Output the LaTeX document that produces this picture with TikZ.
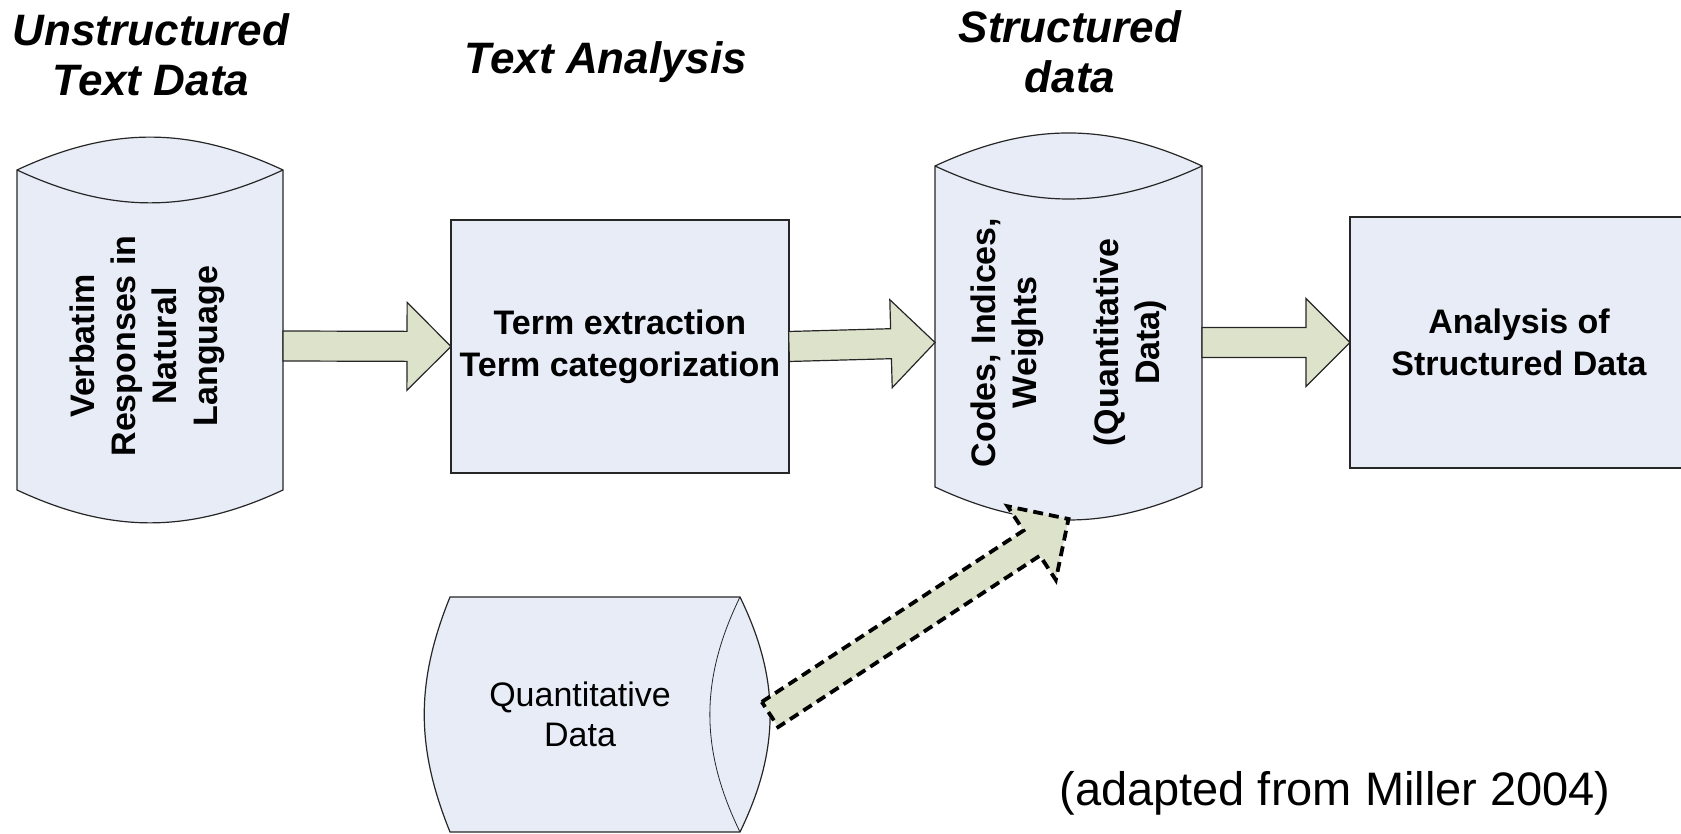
\documentclass[tikz,border=0pt]{standalone}
\usepackage{fontspec}
\setmainfont{Liberation Sans}
\usetikzlibrary{calc}
\definecolor{canfill}{HTML}{E7ECF7}
\definecolor{arrfill}{HTML}{DDE2CB}
\definecolor{edge}{HTML}{262626}
\tikzset{
  area/.style={inner sep=0pt, outer sep=0pt},
  can/.style={draw=edge, fill=canfill, line width=1.2pt},
  box/.style={draw=edge, fill=canfill, line width=1.2pt, inner sep=0pt, outer sep=0pt, minimum width=338pt, boxlab},
  lab/.style={font=\fontsize{34}{41}\selectfont\bfseries, align=center},
  boxlab/.style={font=\fontsize{34}{42}\selectfont\bfseries, align=center},
  plain/.style={font=\fontsize{34}{40}\selectfont, align=center},
  head/.style={font=\fontsize{44}{50}\selectfont\bfseries\itshape, align=center},
  fatarr/.style={draw=edge, fill=arrfill, line width=1.2pt, line join=miter},
  dasharr/.style={draw=black, line width=3.8pt, dash pattern=on 10pt off 6pt},
}
\newcommand{\blockarrow}[3][]{%
  \coordinate (hb) at ($(#3)!44pt!(#2)$);
  \draw[fatarr,#1] ($(#2)!15pt!90:(#3)$) -- ($(hb)!15pt!90:(#3)$) -- ($(hb)!44pt!90:(#3)$) -- (#3)
    -- ($(hb)!44pt!-90:(#3)$) -- ($(hb)!15pt!-90:(#3)$) -- ($(#2)!15pt!-90:(#3)$) -- cycle;
}

\begin{document}
\begin{tikzpicture}[x=1pt, y=1pt]
  \useasboundingbox (0,0) rectangle (1681,834);
  \def\ry{32}
  % headings
  \node[head] (hraw) at (151,779) {Unstructured\\Text Data};
  \node[head] (hta) at (606,772) {Text Analysis};
  \node[head] (hsd) at (1070,782) {Structured\\data};
  % unstructured text store
  \node[area, minimum width=266pt, minimum height=288pt] (raw) at (150,488) {};
  \draw[can] (raw.south west) -- ([yshift=\ry pt]raw.north west) to[bend left=25] ([yshift=\ry pt]raw.north east)
    -- (raw.south east) to[bend left=25] (raw.south west) -- cycle;
  \draw[can, fill=none] ([yshift=\ry pt]raw.north west) to[bend right=25] ([yshift=\ry pt]raw.north east);
  \node[lab, rotate=90] (rawtxt) at (147,488) {Verbatim\\Responses in\\Natural\\Language};
  % structured data store
  \node[area, minimum width=267pt, minimum height=289pt] (sd) at (1068.5,491.5) {};
  \draw[can] (sd.south west) -- ([yshift=\ry pt]sd.north west) to[bend left=25] ([yshift=\ry pt]sd.north east)
    -- (sd.south east) to[bend left=25] (sd.south west) -- cycle;
  \draw[can, fill=none] ([yshift=\ry pt]sd.north west) to[bend right=25] ([yshift=\ry pt]sd.north east);
  \node[lab, rotate=90] (sdtxt) at (sd) {Codes, Indices,\\Weights\\[41pt](Quantitative\\Data)};
  % quantitative data store
  \node[area, minimum width=260pt, minimum height=235pt] (qd) at (580,119.5) {};
  \draw[can] (qd.north west) -- ([xshift=30pt]qd.north east) to[bend left=26] ([xshift=30pt]qd.south east)
    -- (qd.south west) to[bend left=22] (qd.north west) -- cycle;
  \draw[can, fill=none, line width=0.8pt] ([xshift=30pt]qd.north east) to[bend right=26] ([xshift=30pt]qd.south east);
  \node[plain] (qdtxt) at (qd) {Quantitative\\Data};
  \coordinate (qdout) at ([xshift=60pt]qd.east);
  \coordinate (sdin) at ([yshift=-\ry pt]sd.south);
  % process boxes
  \node[box, minimum height=253pt] (ta) at (620,487.5) {Term extraction\\Term categorization};
  \node[box, minimum height=251pt] (as) at (1519,491.5) {Analysis of\\Structured Data};
  % flow
  \blockarrow{raw.east}{ta.west}
  \blockarrow{ta.east}{sd.west}
  \blockarrow{sd.east}{as.west}
  \blockarrow[dasharr]{qdout}{sdin}
  \node[plain, font=\fontsize{47}{56}\selectfont] (src) at (1335,41) {(adapted from Miller 2004)};
\end{tikzpicture}
\end{document}
